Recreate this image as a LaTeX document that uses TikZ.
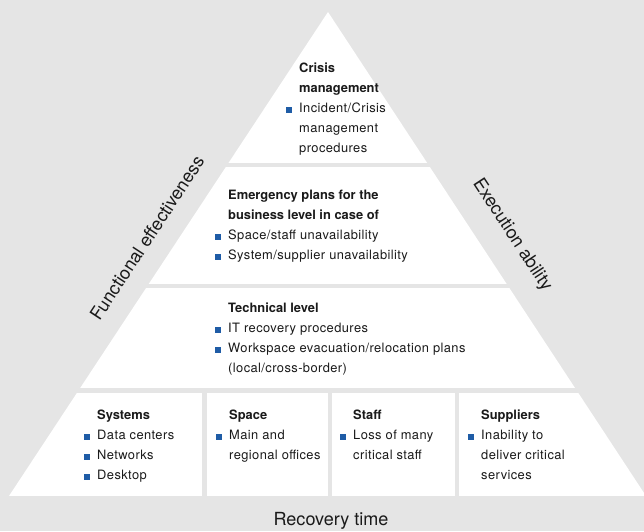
\documentclass[tikz,border=0pt]{standalone}
\usepackage{fontspec}
\setmainfont{TeX Gyre Heros}
\newfontfamily\bodyfont{TeX Gyre Heros}[LetterSpace=3.2, BoldFeatures={LetterSpace=0}]
\usepackage{tikz}
\usetikzlibrary{calc, positioning}

\definecolor{bggray}{HTML}{E5E5E5}
\definecolor{bulletblue}{HTML}{1F5CA6}
\definecolor{txtgray}{HTML}{1A1A1A}

\newcommand{\sqbullet}{\makebox[0pt][r]{\textcolor{bulletblue}{\rule{1.75mm}{1.75mm}}\hspace{2.1mm}}}

\begin{document}
\begin{tikzpicture}[x=0.3mm, y=-0.3mm,
    block/.style={anchor=north west, inner sep=0pt, align=left, text=txtgray,
      font=\bodyfont\fontsize{11}{17.07}\selectfont},
    axislabel/.style={inner sep=0pt, text=txtgray, font=\fontsize{15.4}{18}\selectfont}]
  \fill [bggray] (0,0) rectangle (644,531);
  \useasboundingbox (0,0) rectangle (644,531);
  \coordinate (apex) at (328,12);
  \coordinate (bl) at (9,496);
  \coordinate (br) at (646,496);
  % white bands cut out of the pyramid
  \begin{scope}
    \clip (apex) -- (bl) -- (br) -- cycle;
    \fill [white] (0,0) rectangle (644,163);
    \fill [white] (0,167) rectangle (644,284);
    \fill [white] (0,288) rectangle (644,388);
    \fill [white] (0,393) rectangle (202,496);
    \fill [white] (206.5,393) rectangle (327.5,496);
    \fill [white] (332,393) rectangle (454.5,496);
    \fill [white] (458.5,393) rectangle (646,496);
  \end{scope}
  \node (crisis) at (299,63) [block]
    {\textbf{Crisis}\\ \textbf{management}\\ \sqbullet Incident/Crisis\\ management\\ procedures};
  \node (business) at (228,190) [block]
    {\textbf{Emergency plans for the}\\ \textbf{business level in case of}\\
     \sqbullet Space/staff unavailability\\ \sqbullet System/supplier unavailability};
  \node (technical) at (228,303) [block]
    {\textbf{Technical level}\\ \sqbullet IT recovery procedures\\
     \sqbullet Workspace evacuation/relocation plans\\ (local/cross-border)};
  \node (systems) at (97,410) [block]
    {\textbf{Systems}\\ \sqbullet Data centers\\ \sqbullet Networks\\ \sqbullet Desktop};
  \node (space) at (229,410) [block]
    {\textbf{Space}\\ \sqbullet Main and\\ regional offices};
  \node (staff) at (353,410) [block]
    {\textbf{Staff}\\ \sqbullet Loss of many\\ critical staff};
  \node (suppliers) at (481,410) [block]
    {\textbf{Suppliers}\\ \sqbullet Inability to\\ deliver critical\\ services};
  \node (functional) at (147,238) [axislabel, rotate=56.7] {Functional effectiveness};
  \node (execution) at (512,235) [axislabel, rotate=-56.7] {Execution ability};
  \node (recovery) at (331,521) [axislabel] {Recovery time};
\end{tikzpicture}
\end{document}
